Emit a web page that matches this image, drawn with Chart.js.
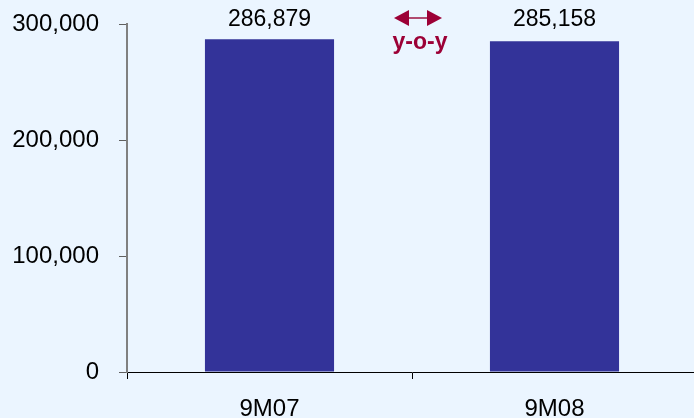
<!DOCTYPE html>
<html>
<head>
<meta charset="utf-8">
<script src="https://cdn.jsdelivr.net/npm/chart.js@4.4.1/dist/chart.umd.min.js"></script>
<style>
  html, body { margin:0; padding:0; background:#ebf5ff; overflow:hidden; }
  #wrap { width:694px; height:418px; overflow:hidden; }
</style>
</head>
<body>
<div id="wrap"><canvas id="salesChart" width="697" height="418"></canvas></div>
<script>
// ===== Data =====
const periods = ['9M07', '9M08'];
const volumes = [286879, 285158];
const yTicks = [0, 100000, 200000, 300000];
const changeLabel = 'y-o-y';

const BAR = '#333399';
const ACCENT = '#9c0036';
const FONT = '"Liberation Sans", Arial, sans-serif';

function fmt(n){ return n.toLocaleString('en-US'); }

// ===== Value labels + y-o-y arrow =====
const annotations = {
    id: 'annotations',
    afterDatasetsDraw(chart){
        const ctx = chart.ctx;
        const meta = chart.getDatasetMeta(0);
        ctx.save();
        ctx.font = '23px ' + FONT;
        ctx.fillStyle = '#000';
        ctx.textAlign = 'center';
        ctx.textBaseline = 'middle';
        meta.data.forEach((bar, i) => {
            ctx.fillText(fmt(volumes[i]), bar.x, 20);
        });

        // double arrow between the two bars
        const mid = chart.scales.x.getPixelForValue(0.5);
        const cx = mid + 6, y = 18, half = 24, head = 15;
        ctx.strokeStyle = '#b04a70';
        ctx.lineWidth = 2;
        ctx.beginPath();
        ctx.moveTo(cx - half + head, y);
        ctx.lineTo(cx + half - head, y);
        ctx.stroke();
        ctx.fillStyle = ACCENT;
        ctx.beginPath();
        ctx.moveTo(cx - half, y);
        ctx.lineTo(cx - half + head, y - 8);
        ctx.lineTo(cx - half + head, y + 8);
        ctx.closePath();
        ctx.fill();
        ctx.beginPath();
        ctx.moveTo(cx + half, y);
        ctx.lineTo(cx + half - head, y - 8);
        ctx.lineTo(cx + half - head, y + 8);
        ctx.closePath();
        ctx.fill();

        ctx.font = 'bold 23px ' + FONT;
        ctx.fillText(changeLabel, cx + 2, 43);
        ctx.restore();
    }
};

new Chart(document.getElementById('salesChart').getContext('2d'), {
    type: 'bar',
    data: {
        labels: periods,
        datasets: [{ data: volumes, backgroundColor: BAR, borderWidth: 0,
                     categoryPercentage: 1, barPercentage: 0.453 }]
    },
    options: {
        responsive: false,
        animation: false,
        layout: { padding: { top: 24, left: 0, right: 0, bottom: 0 } },
        plugins: { legend: { display: false }, tooltip: { enabled: false } },
        scales: {
            x: {
                grid: { display: true, drawOnChartArea: false, offset: true, color: '#000', tickLength: 7 },
                border: { display: true, color: '#000', width: 1 },
                ticks: { color: '#000', font: { family: FONT, size: 24 }, padding: 16 },
                afterFit(scale){ scale.height = 46; scale.paddingLeft = 0; scale.paddingRight = 0; }
            },
            y: {
                min: 0, max: 300000,
                afterBuildTicks(scale){ scale.ticks = yTicks.map(v => ({ value: v })); },
                grid: { display: true, drawOnChartArea: false, color: '#606060', tickLength: 8 },
                border: { display: true, color: '#808080', width: 2 },
                ticks: { color: '#000', font: { family: FONT, size: 24 }, padding: 20,
                         callback: v => fmt(v) },
                afterFit(scale){ scale.width = 127; scale.paddingTop = 0; scale.paddingBottom = 0; }
            }
        }
    },
    plugins: [annotations]
});
</script>
</body>
</html>
